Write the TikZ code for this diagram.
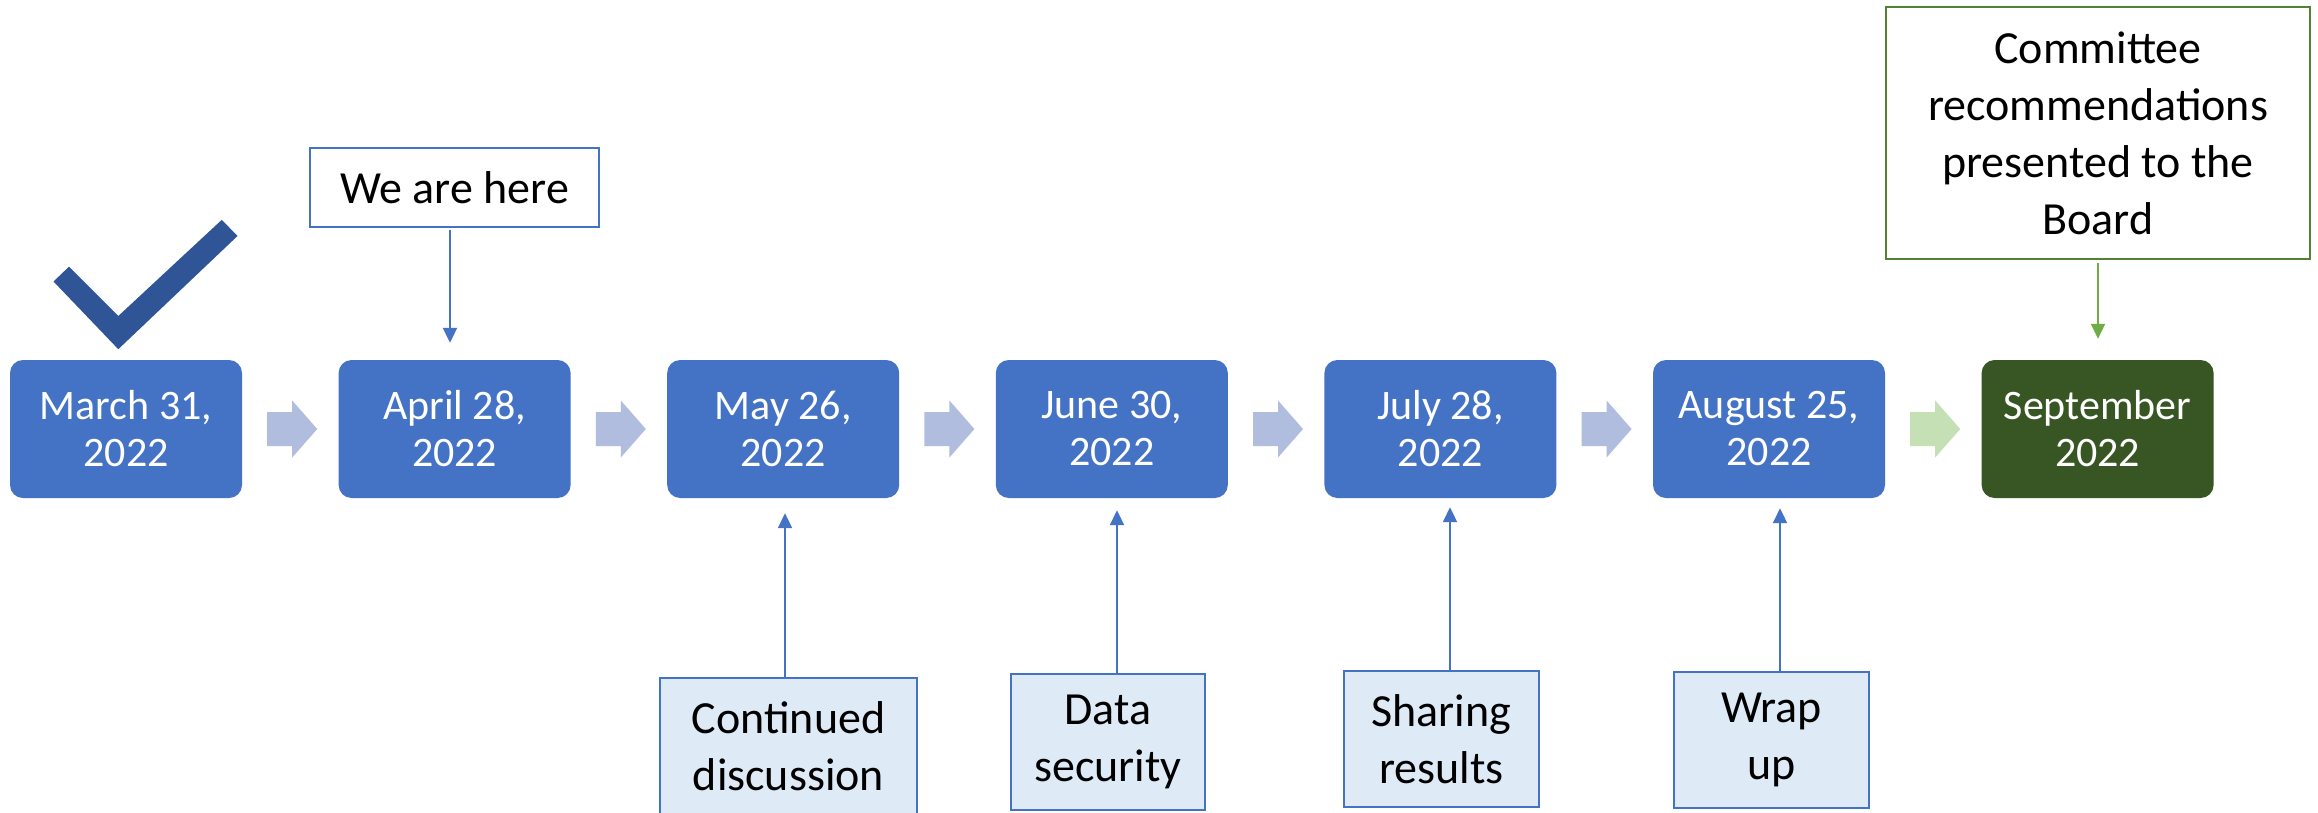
\documentclass[tikz,border=0pt]{standalone}
\usepackage{fontspec}
\setmainfont{Carlito}
\usetikzlibrary{arrows.meta,calc}
\definecolor{boxblue}{HTML}{4472C4}
\definecolor{chevblue}{HTML}{B0BDDF}
\definecolor{chevgreen}{HTML}{C5E0B4}
\definecolor{darkgreen}{HTML}{375623}
\definecolor{checkblue}{HTML}{2F5597}
\definecolor{notefill}{HTML}{DEEBF7}
\definecolor{gborder}{HTML}{548235}
\definecolor{garrow}{HTML}{70AD47}
\begin{document}
\begin{tikzpicture}[x=1pt,y=-1pt,
  datebox/.style={rectangle,rounded corners=13pt,minimum width=232pt,minimum height=138pt,
    inner sep=0pt,fill=boxblue,text=white,align=center,font=\fontsize{42}{47}\selectfont},
  callout/.style={rectangle,draw=boxblue,line width=2pt,fill=white,text=black,align=center,
    inner sep=0pt,font=\fontsize{46}{57}\selectfont},
  notebox/.style={callout,fill=notefill,minimum height=136pt},
  conn/.style={draw=boxblue,line width=2pt,-{Triangle[length=15pt,width=14pt]}},
  chev/.style={fill=chevblue}
]
\useasboundingbox (0,0) rectangle (2318,812);
\fill[white] (0,0) rectangle (2318,812);

% checkmark
\fill[checkblue] (53.5,281.5) -- (69,266.7) -- (118.3,316) -- (221.8,219.8) -- (237.5,236) -- (118.3,349.2) -- cycle;

% date boxes
\node[datebox] (m1) at (126,429) {March 31,\\2022};
\node[datebox] (m2) at (454.6,429) {April 28,\\2022};
\node[datebox] (m3) at (783.2,429) {May 26,\\2022};
\node[datebox] (m4) at (1111.8,429) {June 30,\\2022};
\node[datebox] (m5) at (1440.4,429) {July 28,\\2022};
\node[datebox] (m6) at (1769,429) {August 25,\\2022};
\node[datebox,fill=darkgreen] (m7) at (2097.6,429) {September\\2022};

% chevrons
\foreach \a in {m1,m2,m3,m4,m5}{
  \fill[chev] ($(\a.east)+(25,-17)$) -- ++(25,0) -- ++(0,-11.5) -- ++(25,28.5) -- ++(-25,28.5) -- ++(0,-11.5) -- ++(-25,0) -- cycle;
}
\fill[chev,fill=chevgreen] ($(m6.east)+(25,-17)$) -- ++(25,0) -- ++(0,-11.5) -- ++(25,28.5) -- ++(-25,28.5) -- ++(0,-11.5) -- ++(-25,0) -- cycle;

% callouts
\node[callout,minimum width=289pt,minimum height=79pt] (here) at (454.6,187.5) {We are here};
\node[callout,draw=gborder,minimum width=424pt,minimum height=252pt] (board) at (2098,133)
  {Committee\\recommendations\\presented to the\\Board};

\node[notebox,minimum width=257pt] (n1) at (788.5,746) {Continued\\discussion};
\node[notebox,minimum width=194pt] (n2) at (1108,742) {Data\\security};
\node[notebox,minimum width=195pt] (n3) at (1441.5,739) {Sharing\\results};
\node[notebox,minimum width=195pt] (n4) at (1771.5,740) {Wrap\\up};

% connectors
\draw[conn,shorten <=2pt,shorten >=17pt] ([xshift=-4.6pt]here.south) -- ([xshift=-4.6pt]here.south |- m2.north);
\draw[conn,draw=garrow,shorten <=3pt,shorten >=21pt] (board.south) -- (board.south |- m7.north);
\draw[conn,shorten >=15pt] ([xshift=-3.5pt]n1.north) -- ([xshift=-3.5pt]n1.north |- m3.south);
\draw[conn,shorten >=12pt] ([xshift=9pt]n2.north) -- ([xshift=9pt]n2.north |- m4.south);
\draw[conn,shorten >=9pt] ([xshift=8.5pt]n3.north) -- ([xshift=8.5pt]n3.north |- m5.south);
\draw[conn,shorten >=10pt] ([xshift=8.5pt]n4.north) -- ([xshift=8.5pt]n4.north |- m6.south);
\end{tikzpicture}
\end{document}
